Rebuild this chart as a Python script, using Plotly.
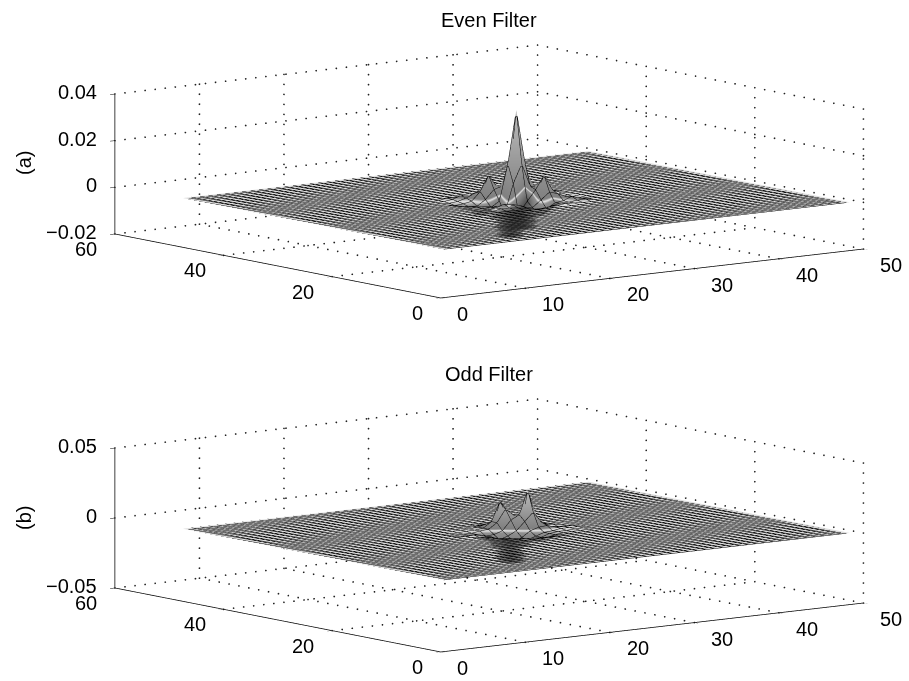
import numpy as np
import plotly.graph_objects as go

x_ticks = [0, 10, 20, 30, 40, 50]
y_ticks = [0, 20, 40, 60]
z_ticks_even = [-0.02, 0, 0.02, 0.04]
z_labels_even = ["\u22120.02", "0", "0.02", "0.04"]
z_ticks_odd = [-0.05, 0, 0.05]
z_labels_odd = ["\u22120.05", "0", "0.05"]
samples = list(range(1, 50))

# Central part of each filter, in thousandths.
# Rows are y = 19..31, columns are x = 19..31; the rest of the sheet is flat.
even_center = [
    [0, 0, .1, -.2, -.7, -.5, -.1, .1, .5, .3, .1, 0, 0],
    [0, .7, .6, .2, -.4, -1.1, -1.8, -.5, .2, .2, .6, .7, 0],
    [.1, .6, 1.8, 1.2, .3, -1.4, -4.1, -2.3, -.2, .4, 1.8, .6, .1],
    [.3, .2, .4, -1.8, -5.4, -1.6, -1.8, 1.1, 4, 2.9, 1.2, .2, -.2],
    [.5, .2, -.2, -5.4, -13.7, -4.3, .4, 5, 10.8, 4, .3, -.4, -.7],
    [.1, -.5, -2.3, -1.6, -4.3, 8, 16, 6, 5, 1.1, -1.4, -1.1, -.5],
    [-.1, -1.8, -4.1, -1.8, .4, 16, 38.6, 16, .4, -1.8, -4.1, -1.8, -.1],
    [-.5, -1.1, -1.4, 1.1, 5, 6, 16, 8, -4.3, -1.6, -2.3, -.5, .1],
    [-.7, -.4, .3, 4, 10.8, 5, .4, -4.3, -13.7, -5.4, -.2, .2, .5],
    [-.2, .2, 1.2, 2.9, 4, 1.1, -1.8, -1.6, -5.4, -1.8, .4, .2, .3],
    [.1, .6, 1.8, 1.2, .3, -1.4, -4.1, -2.3, -.2, .4, 1.8, .6, .1],
    [0, .7, .6, .2, -.4, -1.1, -1.8, -.5, .2, .2, .6, .7, 0],
    [0, 0, .1, -.2, -.7, -.5, -.1, .1, .5, .3, .1, 0, 0],
]
odd_center = [
    [0, 0, -.1, -.2, -.3, -.2, -.1, -.1, -.1, 0, 0, 0, 0],
    [0, 0, -.1, -.2, -.3, -.6, -1, -.8, -.4, -.2, -.1, -.1, 0],
    [0, -.1, -.2, -.5, -1, -2, -4, -2.5, -1, -.4, -.2, -.1, .1],
    [0, -.1, -.4, -1, -6, -4, -5, -3, -1, -.3, -.2, .2, .2],
    [.1, -.2, -.6, -6, -20, -9, -5, -3, -1, -.5, .5, .4, .3],
    [.3, -.5, -1, -3, -9, -6, -4, 0, 2, 2.5, .6, .3, .4],
    [.2, .5, -.5, -2, -5, -3, 0, 6, 12, 4, .5, -.5, -.2],
    [-.4, -.3, -.6, -2.5, -2, 0, 7, 10, 27, 6, 1, .5, -.3],
    [-.3, -.4, -.5, .5, 1, 5, 14, 9, 5, 2, .6, .2, -.1],
    [-.2, -.2, .2, .3, 1, 5, 19, 6, 3, 1, .4, .1, 0],
    [-.1, .1, .2, .4, 1, 2.5, 4, 2, 1, .5, .2, .1, 0],
    [0, .1, .1, .2, .4, .8, 1, .6, .3, .2, .1, 0, 0],
    [0, 0, 0, .1, .1, .2, .3, .2, .1, 0, 0, 0, 0],
]


def sheet(center):
    z = np.zeros((len(samples), len(samples)))
    z[18:31, 18:31] = np.array(center) / 1000.0
    return z


def see_through_shade(z, z_span):
    # The original mesh is see-through: darken the flat cells that lie in
    # front of a dip along the line of sight, so the dip still shows.
    k = 141.6 / z_span
    n = len(samples)
    shade = z.copy()
    for yi in range(n):
        for xi in range(n):
            if z[yi, xi] > 0.0005:
                continue
            best = 0.0
            for step in range(1, 60):
                d = step * 4.0
                xn = int(round(xi + 0.0565 * d))
                yn = int(round(yi + 0.0879 * d))
                if xn >= n or yn >= n:
                    break
                if z[yn, xn] * k < -0.1508 * d:
                    best = min(best, z[yn, xn])
            shade[yi, xi] = min(z[yi, xi], best * 0.7)
    return shade


def grid_dots(z_ticks):
    xs, ys, zs = [], [], []
    zmin, zmax = z_ticks[0], z_ticks[-1]
    xmax, ymax = x_ticks[-1], y_ticks[-1]
    def seg(a, b, n):
        xs.extend(np.linspace(a[0], b[0], n)); ys.extend(np.linspace(a[1], b[1], n)); zs.extend(np.linspace(a[2], b[2], n))
    for xv in x_ticks:
        if xv != 0:
            seg((xv, 0, zmin), (xv, ymax, zmin), 34)
            seg((xv, ymax, zmin), (xv, ymax, zmax), 15)
    for yv in y_ticks:
        if yv != 0:
            seg((0, yv, zmin), (xmax, yv, zmin), 43)
        seg((xmax, yv, zmin), (xmax, yv, zmax), 15)
    for zv in z_ticks:
        seg((0, ymax, zv), (xmax, ymax, zv), 43)
        seg((xmax, ymax, zv), (xmax, 0, zv), 34)
    return xs, ys, zs


def add_panel(fig, scene, center, z_ticks, cmin, cmax):
    z = sheet(center)
    span = cmax - cmin
    zero = -cmin / span
    fig.add_trace(go.Surface(
        x=samples, y=samples, z=z, scene=scene, showscale=False, cmin=cmin, cmax=cmax,
        surfacecolor=see_through_shade(z, z_ticks[-1] - z_ticks[0]),
        colorscale=[[0, "#303030"], [zero - 0.02, "#909090"], [zero, "#e4e4e4"],
                    [zero + 0.02, "#808080"], [1, "#bcbcbc"]],
        hoverinfo="skip",
        lighting=dict(ambient=1, diffuse=0, specular=0, fresnel=0),
        contours=dict(
            x=dict(show=True, start=1, end=49, size=1, color="#000000", width=1),
            y=dict(show=True, start=1, end=49, size=1, color="#000000", width=1),
            z=dict(show=False),
        ),
    ))
    xs, ys, zs = grid_dots(z_ticks)
    fig.add_trace(go.Scatter3d(
        x=xs, y=ys, z=zs, scene=scene, mode="markers", hoverinfo="skip",
        marker=dict(color="#222222", size=1, symbol="circle", line=dict(width=0)),
        showlegend=False,
    ))


fig = go.Figure()
add_panel(fig, "scene", even_center, z_ticks_even, -0.014, 0.0386)
add_panel(fig, "scene2", odd_center, z_ticks_odd, -0.027, 0.027)

FONT = "Liberation Sans"
TXT = dict(family=FONT, size=20, color="#000000")


def tick_notes(z_ticks, z_labels):
    notes = []
    zmin = z_ticks[0]
    for v in x_ticks:
        notes.append(dict(x=v, y=0, z=zmin, text=str(v), showarrow=False, font=TXT,
                          xanchor="center", yanchor="middle",
                          xshift=22 if v == 0 else 28, yshift=-16))
    for v in y_ticks:
        notes.append(dict(x=0, y=v, z=zmin, text=str(v), showarrow=False, font=TXT,
                          xanchor="center", yanchor="middle",
                          xshift=-23 if v == 0 else -29, yshift=-15))
    for v, lab in zip(z_ticks, z_labels):
        notes.append(dict(x=0, y=y_ticks[-1], z=v, text=lab, showarrow=False, font=TXT,
                          xanchor="right", yanchor="middle", xshift=-16, yshift=2))
    return notes


S, T, SE = 0.602, 0.784, 0.1508
NORM = 8.0
SHIFT = 0.2255
ZOOM = 3.427


def scene_layout(y_dom, z_ticks, z_labels):
    axis = dict(showgrid=False, showbackground=False, showline=True, linecolor="#000000",
                linewidth=1.5, ticks="outside", tickcolor="#000000", ticklen=6,
                showticklabels=False, zeroline=False, showspikes=False, title=dict(text=""))
    cx, cy = -SHIFT * T, SHIFT * S
    return dict(
        domain=dict(x=[0.0, 1.0], y=y_dom),
        xaxis=dict(axis, range=[0, 50], tickvals=x_ticks),
        yaxis=dict(axis, range=[0, 60], tickvals=y_ticks),
        zaxis=dict(axis, range=[z_ticks[0], z_ticks[-1]], tickvals=z_ticks),
        aspectmode="manual", aspectratio=dict(x=1.0 * ZOOM, y=1.004 * ZOOM, z=0.2657 * ZOOM),
        annotations=tick_notes(z_ticks, z_labels),
        camera=dict(projection=dict(type="orthographic"),
                    eye=dict(x=-S * NORM + cx, y=-T * NORM + cy, z=SE * NORM),
                    center=dict(x=cx, y=cy, z=0), up=dict(x=0, y=0, z=1)),
    )


H = 681.0
note = dict(xref="paper", yref="paper", showarrow=False, font=TXT, xanchor="center", yanchor="middle")
fig.update_layout(
    width=909, height=681, margin=dict(l=0, r=0, t=0, b=0), paper_bgcolor="#ffffff",
    showlegend=False,
    scene=scene_layout([1 - 327 / H, 1 - 16 / H], z_ticks_even, z_labels_even),
    scene2=scene_layout([1 - 681 / H, 1 - 370 / H], z_ticks_odd, z_labels_odd),
    annotations=[
        dict(note, text="Even Filter", x=489 / 909, y=1 - 20 / H),
        dict(note, text="Odd Filter", x=489 / 909, y=1 - 374 / H),
        dict(note, text="(a)", x=24 / 909, y=1 - 163 / H, textangle=-90),
        dict(note, text="(b)", x=24 / 909, y=1 - 518 / H, textangle=-90),
    ],
)
fig.write_html("out.html", config={"displayModeBar": False},
               post_script="document.body.style.margin='0';document.documentElement.style.overflow='hidden';")
